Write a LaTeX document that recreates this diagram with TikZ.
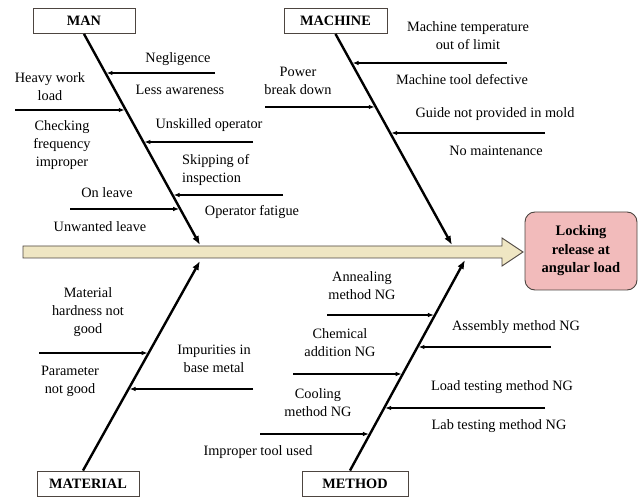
\documentclass[tikz,border=0pt]{standalone}
\usepackage{fontspec}
\setmainfont{Liberation Serif}
\usetikzlibrary{arrows.meta, positioning, calc, intersections}
\definecolor{spinefill}{HTML}{EFE6C3}
\definecolor{effectfill}{HTML}{F2BBBB}
\definecolor{edgegray}{HTML}{4D4540}

\begin{document}
\begin{tikzpicture}[x=1pt, y=-1pt,
  lbl/.style={font=\fontsize{14.3}{18}\selectfont, inner sep=0pt, align=center},
  catbox/.style={draw=edgegray, line width=0.9pt, fill=white, minimum width=102pt, minimum height=25pt, inner sep=0pt, font=\fontsize{14.3}{17}\selectfont\bfseries},
  bone/.style={line width=2.4pt, -{Latex[length=9pt, width=7pt]}},
  cause/.style={line width=1.2pt, -{Latex[length=6pt, width=4.5pt]}, shorten >=1pt}]
\useasboundingbox (0,0) rectangle (641,497);
% Effect and spine
\node[draw=edgegray, line width=0.9pt, fill=effectfill, rounded corners=10pt, minimum width=112pt, minimum height=78pt, inner sep=0pt, align=center, font=\fontsize{14.5}{18.5}\selectfont\bfseries] (effect) at (581,251) {Locking\\release at\\angular load};
\draw[draw=edgegray, fill=spinefill, line width=0.9pt] (23,246) -- (502,246) -- (502,238) -- (523,252) -- (502,266) -- (502,258) -- (23,258) -- cycle;
% Category boxes
\node[catbox] (man) at (84,21) {MAN};
\node[catbox, minimum width=103pt] (machine) at (335.5,21) {MACHINE};
\node[catbox] (material) at (88,483.5) {MATERIAL};
\node[catbox, minimum width=106pt] (method) at (355,483.5) {METHOD};
% Bones
\coordinate (mantop) at (man.south);
\coordinate (mantip) at (200,245);
\coordinate (machtop) at (machine.south);
\coordinate (machtip) at (452,245);
\coordinate (mattop) at ([xshift=-5pt]material.north);
\coordinate (mattip) at (200,261);
\coordinate (methtop) at ([xshift=-5pt]method.north);
\coordinate (methtip) at (465,260);
\foreach \bn in {man, mach, mat, meth}
  \draw[bone, name path global=\bn bone] (\bn top) -- (\bn tip);
% Cause arrows
\foreach \x/\y/\bn [count=\i] in {215/73/man, 15/110/man, 253/142/man, 283/195/man, 70/209/man,
    507/63/mach, 265/107/mach, 545/133/mach,
    39/353/mat, 253/389/mat,
    327/315/meth, 293/374/meth, 260/434/meth, 551/347/meth, 545/408/meth} {
  \coordinate (c\i) at (\x,\y);
  \path[name path=hline] (0,\y) -- (641,\y);
  \draw[cause, name intersections={of=hline and \bn bone, by=t\i}] (c\i) -- (t\i);
}
% Man causes
\node[lbl] (negl) at (178,59) {Negligence};
\node[lbl] (lessaw) at (180,90) {Less awareness};
\node[lbl] (heavy) at (50,87) {Heavy work\\load};
\node[lbl] (checking) at (62,145) {Checking\\frequency\\improper};
\node[lbl] (unskilled) at (209,125) {Unskilled operator};
\node[lbl, anchor=west, align=left] (skipping) at (182,169.5) {Skipping of\\inspection};
\node[lbl] (onleave) at (107,193) {On leave};
\node[lbl] (fatigue) at (252,212) {Operator fatigue};
\node[lbl] (unwanted) at (100,227) {Unwanted leave};
% Machine causes
\node[lbl] (temp) at (468,36) {Machine temperature\\out of limit};
\node[lbl] (tooldef) at (462,80) {Machine tool defective};
\node[lbl] (power) at (298,80.5) {Power\\break down};
\node[lbl] (guide) at (495,114) {Guide not provided in mold};
\node[lbl] (nomaint) at (496,151) {No maintenance};
% Material causes
\node[lbl] (hardness) at (88,312) {Material\\hardness not\\good};
\node[lbl] (param) at (70,381.5) {Parameter\\not good};
\node[lbl] (impur) at (214,359) {Impurities in\\base metal};
\node[lbl] (improper) at (258,452) {Improper tool used};
% Method causes
\node[lbl] (anneal) at (362,286) {Annealing\\method NG};
\node[lbl] (chem) at (340,342.5) {Chemical\\addition NG};
\node[lbl] (cooling) at (318,403) {Cooling\\method NG};
\node[lbl] (assembly) at (516,327) {Assembly method NG};
\node[lbl] (loadtest) at (502,387) {Load testing method NG};
\node[lbl] (labtest) at (499,426) {Lab testing method NG};
\end{tikzpicture}
\end{document}
